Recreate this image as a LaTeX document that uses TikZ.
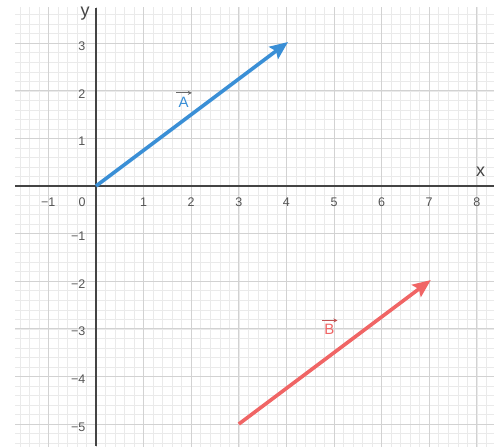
\documentclass[tikz,border=0pt]{standalone}
\usepackage{fontspec}
\setmainfont{Liberation Sans}
\usetikzlibrary{arrows.meta}
\definecolor{vecA}{HTML}{3A8FD6}
\definecolor{vecB}{HTML}{F06565}
\definecolor{axisc}{HTML}{444444}
\definecolor{majorg}{HTML}{D2D2D2}
\definecolor{minorg}{HTML}{EAEAEA}
\definecolor{tickc}{HTML}{555555}
\tikzset{
  minorgrid/.style={draw=minorg, line width=0.5pt},
  majorgrid/.style={draw=majorg, line width=0.8pt},
  axisline/.style={draw=axisc, line width=1.6pt},
  ticklab/.style={text=tickc, font=\fontsize{12.5}{14}\selectfont, inner sep=0pt},
  axislab/.style={text=axisc, font=\fontsize{18}{19}\selectfont, inner sep=0pt},
  vecline/.style={line width=3.6pt, -{Stealth[length=18pt,width=15pt,inset=3pt]}, shorten >=-2pt},
  veclab/.style={font=\fontsize{15}{16}\selectfont, inner sep=0pt},
  labarrow/.style={line width=1pt, -{Stealth[length=4pt,width=4pt]}}
}
\begin{document}
\begin{tikzpicture}[x=47.6pt,y=47.6pt]
\useasboundingbox (-2.017,-5.462) rectangle (8.508,3.908);
\fill[white] (-2.017,-5.462) rectangle (8.508,3.908);
% grid
\begin{scope}
\clip (-1.70,-5.462) rectangle (8.36,3.74);
\foreach \i in {-10,...,45} \draw[minorgrid] (\i*0.2,-5.6) -- (\i*0.2,4);
\foreach \i in {-28,...,20} \draw[minorgrid] (-2,\i*0.2) -- (8.5,\i*0.2);
\foreach \i in {-2,...,9} \draw[majorgrid] (\i,-5.6) -- (\i,4);
\foreach \i in {-6,...,4} \draw[majorgrid] (-2,\i) -- (8.5,\i);
\end{scope}
% axes
\coordinate (xl) at (-1.70,0);
\coordinate (xr) at (8.36,0);
\coordinate (yt) at (0,3.74);
\coordinate (yb) at (0,-5.462);
\draw[axisline] (xl) -- (xr);
\draw[axisline] (yb) -- (yt);
\node[axislab] (xlab) at (8.08,0.30) {x};
\node[axislab] (ylab) at (-0.23,3.62) {y};
% tick labels
\foreach \x in {1,...,8} \node[ticklab] (tx\x) at (\x,-0.34) {\x};
\node[ticklab] (tx0) at (-0.29,-0.34) {0};
\node[ticklab, anchor=east] (txm1) at (-0.85,-0.34) {−1};
\foreach \y in {1,2,3} \node[ticklab, anchor=east] (ty\y) at (-0.22,\y-0.06) {\y};
\foreach \y in {1,...,5} \node[ticklab, anchor=east] (tym\y) at (-0.22,-\y-0.06) {−\y};
% vectors
\coordinate (A0) at (0,0);
\coordinate (A1) at (4,3);
\coordinate (B0) at (3,-5);
\coordinate (B1) at (7,-2);
\draw[vecline, vecA] (A0) -- (A1);
\draw[vecline, vecB] (B0) -- (B1);
\node[veclab, text=vecA] (Alab) at (1.84,1.76) {A};
\draw[labarrow, draw=axisc!80] ([xshift=-2pt,yshift=4pt]Alab.north west) -- ([xshift=3pt,yshift=4pt]Alab.north east);
\node[veclab, text=vecB] (Blab) at (4.90,-3.02) {B};
\draw[labarrow, draw=vecB!80!black] ([xshift=-2pt,yshift=4pt]Blab.north west) -- ([xshift=3pt,yshift=4pt]Blab.north east);
\end{tikzpicture}
\end{document}
